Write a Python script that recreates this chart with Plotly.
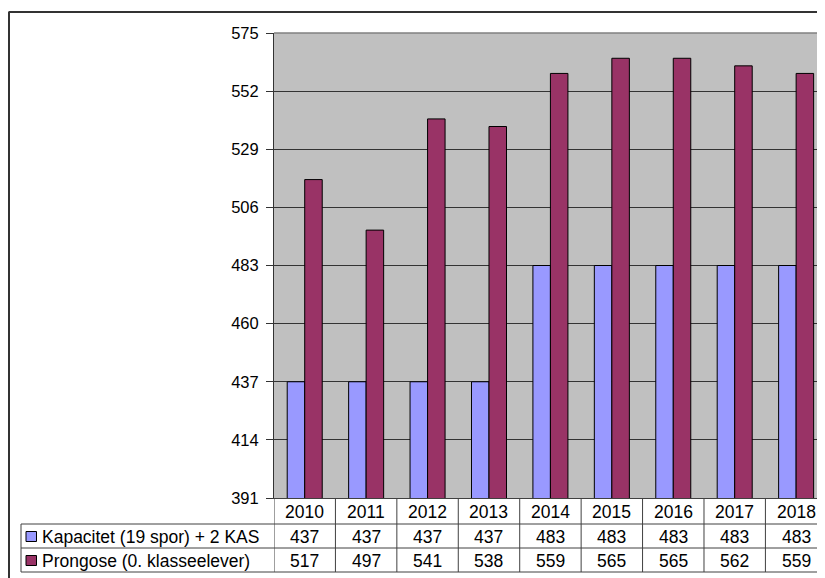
import plotly.graph_objects as go

years = ["2010", "2011", "2012", "2013", "2014", "2015", "2016", "2017", "2018"]
kapacitet = [437, 437, 437, 437, 483, 483, 483, 483, 483]
prognose = [517, 497, 541, 538, 559, 565, 565, 562, 559]
series_names = ["Kapacitet (19 spor) + 2 KAS", "Prongose (0. klasseelever)"]
series_colors = ["#9999FF", "#993366"]
y_ticks = [391, 414, 437, 460, 483, 506, 529, 552, 575]

# page body has an 8px margin: work in screen pixels and subtract it
OFF = 8
W, H = 825 - OFF, 578 - OFF
L, T = 274 - OFF, 33 - OFF
plot_bottom = 498 - OFF
R = 0
B = H - plot_bottom
plot_w = W - L - R
plot_h = plot_bottom - T

def px(xs):
    return (xs - OFF - L) / plot_w

def py(ys):
    return (plot_bottom - (ys - OFF)) / plot_h

FONT = "Liberation Sans, Arial, sans-serif"
TF = 17.5

fig = go.Figure()
for name, vals, col in zip(series_names, [kapacitet, prognose], series_colors):
    fig.add_trace(go.Bar(x=years, y=vals, name=name,
                         marker=dict(color=col, line=dict(color="#000000", width=1)),
                         hoverinfo="x+y"))

shapes = []
annotations = []
line_col = "#404040"

# outer chart border (top and left)
shapes.append(dict(type="line", xref="paper", yref="paper", x0=px(8.5), x1=px(830),
                   y0=py(12), y1=py(12), line=dict(color="#333333", width=2)))
shapes.append(dict(type="line", xref="paper", yref="paper", x0=px(9), x1=px(9),
                   y0=py(12), y1=py(590), line=dict(color="#333333", width=2)))
# plot area top border
shapes.append(dict(type="line", xref="paper", yref="paper", x0=0, x1=1.02,
                   y0=1, y1=1, line=dict(color="#808080", width=1.5)))

# data table lines
for yl in [524, 548, 572]:
    shapes.append(dict(type="line", xref="paper", yref="paper", x0=px(21), x1=1.02,
                       y0=py(yl), y1=py(yl), line=dict(color=line_col, width=1)))
shapes.append(dict(type="line", xref="paper", yref="paper", x0=px(21), x1=px(21),
                   y0=py(524), y1=py(572), line=dict(color=line_col, width=1)))
for i in range(len(years) + 1):
    shapes.append(dict(type="line", xref="x", yref="paper", x0=i - 0.5, x1=i - 0.5,
                       y0=0, y1=py(572), line=dict(color=line_col, width=1)))

# year labels
for i, yr in enumerate(years):
    annotations.append(dict(x=i, y=py(511.5), xref="x", yref="paper", text=yr,
                            xanchor="center", yanchor="middle", showarrow=False,
                            font=dict(size=TF, color="#000", family=FONT)))
# values
row_centers = [536.5, 560.5]
for vals, yc in zip([kapacitet, prognose], row_centers):
    for i, v in enumerate(vals):
        annotations.append(dict(x=i, y=py(yc), xref="x", yref="paper", text=str(v),
                                xanchor="center", yanchor="middle", showarrow=False,
                                font=dict(size=TF, color="#000", family=FONT)))
# legend keys + names
for name, col, yc in zip(series_names, series_colors, row_centers):
    shapes.append(dict(type="rect", xref="paper", yref="paper", x0=px(26), x1=px(36.5),
                       y0=py(yc + 5), y1=py(yc - 5), fillcolor=col,
                       line=dict(color="#000", width=1)))
    annotations.append(dict(x=px(40), y=py(yc), xref="paper", yref="paper", text=name,
                            xanchor="left", yanchor="middle", showarrow=False,
                            font=dict(size=TF, color="#000", family=FONT)))

fig.update_layout(
    width=W, height=H,
    margin=dict(l=L, r=R, t=T, b=B, pad=0),
    paper_bgcolor="#FFFFFF",
    plot_bgcolor="#C0C0C0",
    barmode="group",
    bargap=0.43,
    bargroupgap=0,
    showlegend=False,
    font=dict(family=FONT, size=TF, color="#000"),
    shapes=shapes,
    annotations=annotations,
    xaxis=dict(type="category", range=[-0.5, 8.47], showticklabels=False, ticks="",
               showgrid=False, showline=True, linecolor=line_col, linewidth=1, zeroline=False),
    yaxis=dict(range=[391, 575], tickvals=y_ticks, ticks="outside", ticklen=7,
               tickcolor="#333", showline=True, linecolor="#333", linewidth=1,
               showgrid=True, gridcolor="#333333", gridwidth=1, zeroline=False,
               tickfont=dict(size=16.5, family=FONT, color="#000"), ticklabelstandoff=4),
)

fig.write_html("out.html")
